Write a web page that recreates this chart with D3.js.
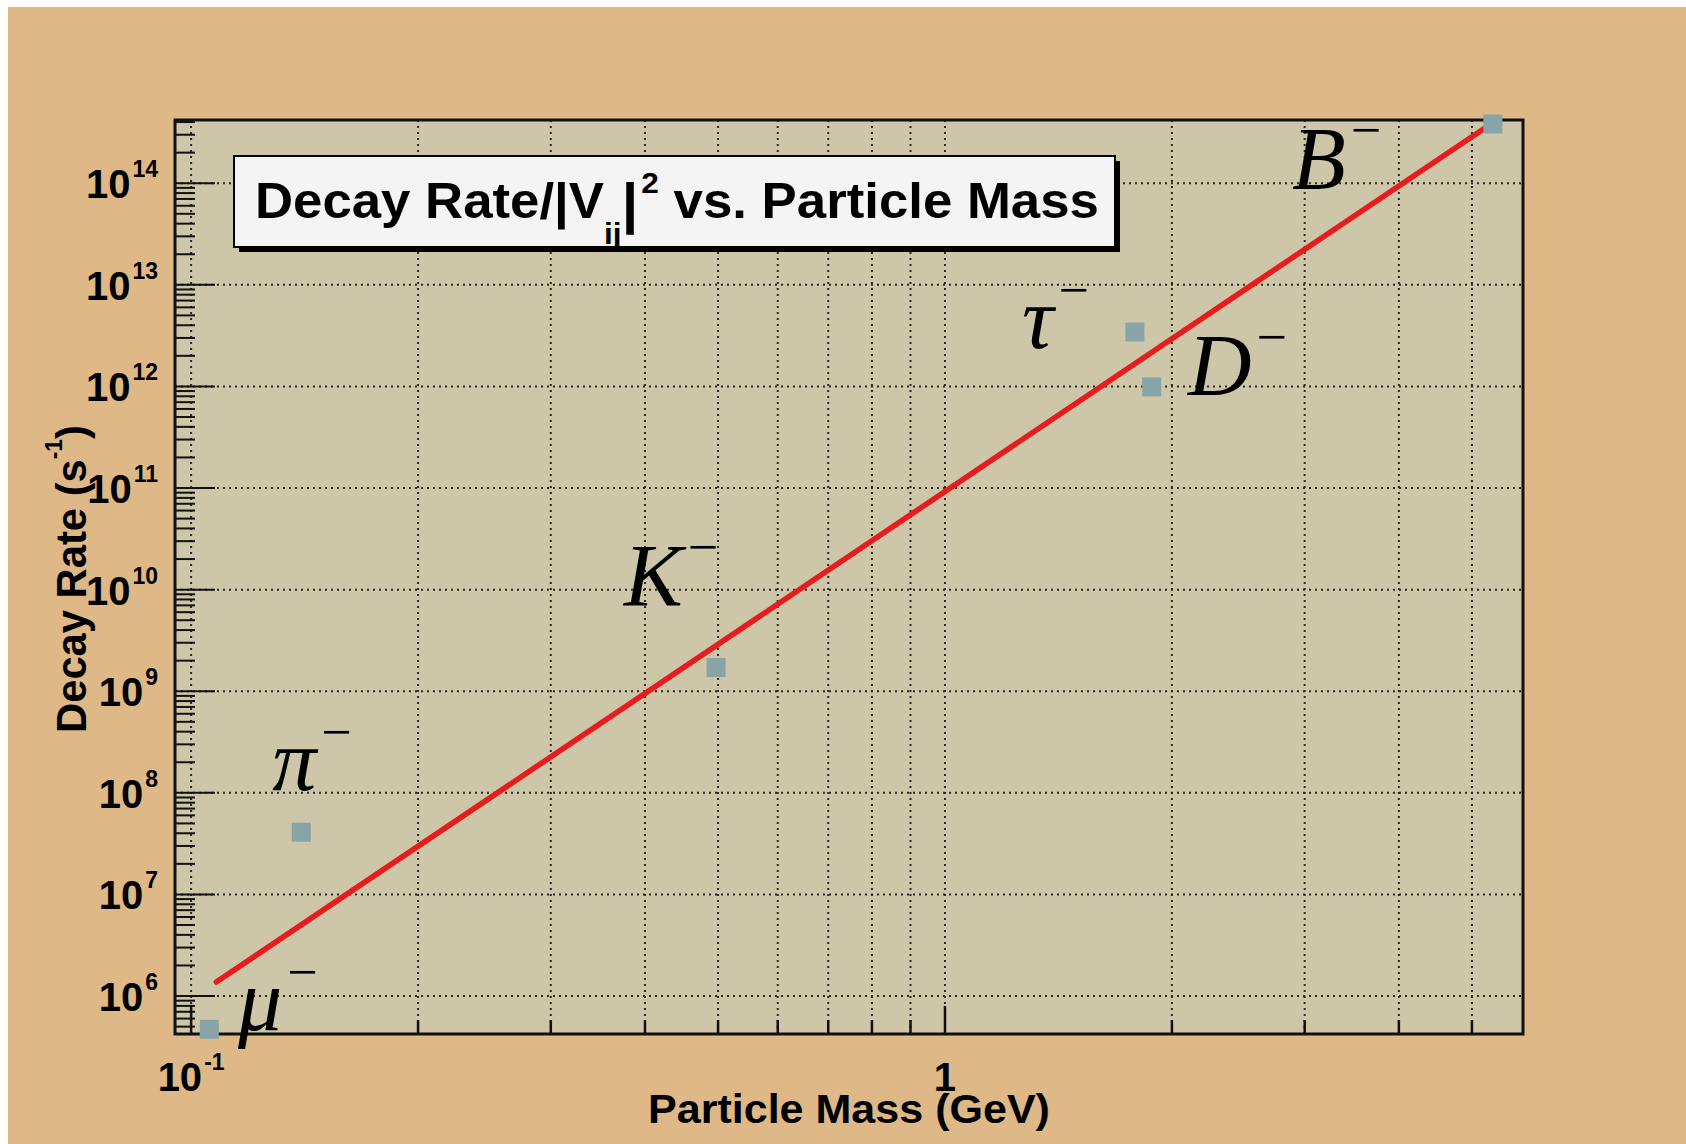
<!DOCTYPE html>
<html>
<head>
<meta charset="utf-8">
<script src="https://cdn.jsdelivr.net/npm/d3@7"></script>
<style>
  html, body { margin: 0; padding: 0; background: #ffffff; }
  svg { display: block; }
</style>
</head>
<body>
<svg id="chart" width="1686" height="1144"></svg>
<script>
// Axis ranges (GeV on x, s^-1 on y)
const massDomain = [0.0952, 5.844];
const rateDomain = [4.23e5, 4.19e14];

// Measured particles: mass (GeV) and decay rate / |Vij|^2 (s^-1)
const particles = ["μ", "π", "K", "τ", "D", "B"];
const masses = [0.1057, 0.140, 0.497, 1.786, 1.88, 5.33];
const rates = [4.7e5, 4.1e7, 1.71e9, 3.43e12, 9.9e11, 3.83e14];

// Where each particle name is written (data coordinates of the text baseline start)
const labelMass = [0.1154, 0.1281, 0.3753, 1.265, 2.10, 2.886];
const labelRate = [4.63e5, 1.066e8, 7.05e9, 2.39e12, 8.23e11, 8.97e13];

// Power-law fit (Sargent's rule, ~m^5): end points of the fitted segment
const fitMass = [0.108, 5.203];
const fitRate = [1.373e6, 3.49e14];

// Tick labels
const rateTickExponents = [6, 7, 8, 9, 10, 11, 12, 13, 14];
const massTickValues = [0.1, 1];
const massTickBase = ["10", "1"];
const massTickExp = ["-1", ""];

const svg = d3.select("#chart");
const W = 1686, H = 1144;
const plot = { left: 175, right: 1523, top: 120, bottom: 1034 };

const x = d3.scaleLog().domain(massDomain).range([plot.left, plot.right]);
const y = d3.scaleLog().domain(rateDomain).range([plot.bottom, plot.top]);

const sansBold = "'Liberation Sans', Arial, Helvetica, sans-serif";
const serif = "'Liberation Serif', 'Times New Roman', Times, serif";

// Horizontally stretch a text element to a given width around an anchor x
function stretchTo(sel, width, ax) {
  const bb = sel.node().getBBox();
  const s = width / bb.width;
  sel.attr("transform", `translate(${ax},0) scale(${s},1) translate(${-ax},0)`);
}

// Canvas background
svg.append("rect").attr("x", 0).attr("y", 0).attr("width", W).attr("height", H).attr("fill", "#ffffff");
svg.append("rect").attr("x", 8).attr("y", 7).attr("width", W - 8).attr("height", H - 7).attr("fill", "#deb887");

// Plot area
svg.append("rect")
  .attr("x", plot.left).attr("y", plot.top)
  .attr("width", plot.right - plot.left).attr("height", plot.bottom - plot.top)
  .attr("fill", "#cdc6a8");

const xTicks = x.ticks();
const yTicks = y.ticks();
const isDecade = v => Math.abs(Math.log10(v) - Math.round(Math.log10(v))) < 1e-9;
const yMajor = rateTickExponents.map(e => Math.pow(10, e));

// Grid: vertical at every x tick, horizontal at each decade
const grid = svg.append("g").attr("stroke", "#2a2a22").attr("stroke-width", 2)
  .attr("stroke-dasharray", "2,4").attr("fill", "none");
grid.selectAll("line.v").data(xTicks).join("line")
  .attr("class", "v")
  .attr("x1", d => x(d)).attr("x2", d => x(d))
  .attr("y1", plot.bottom).attr("y2", plot.top);
grid.selectAll("line.h").data(yMajor).join("line")
  .attr("class", "h")
  .attr("x1", plot.left).attr("x2", plot.right)
  .attr("y1", d => y(d)).attr("y2", d => y(d));

// Fit line
svg.append("line")
  .attr("x1", x(fitMass[0])).attr("y1", y(fitRate[0]))
  .attr("x2", x(fitMass[1])).attr("y2", y(fitRate[1]))
  .attr("stroke", "#e81c1c").attr("stroke-width", 5.5).attr("stroke-linecap", "round");

// Frame and ticks
const axes = svg.append("g").attr("stroke", "#111").attr("fill", "none");
axes.selectAll("line.xt").data(xTicks).join("line")
  .attr("class", "xt")
  .attr("x1", d => x(d)).attr("x2", d => x(d))
  .attr("y1", plot.bottom).attr("y2", d => plot.bottom - (isDecade(d) ? 28 : 14))
  .attr("stroke-width", 2.5);
axes.selectAll("line.yt").data(yTicks).join("line")
  .attr("class", "yt")
  .attr("y1", d => y(d)).attr("y2", d => y(d))
  .attr("x1", plot.left).attr("x2", d => plot.left + (isDecade(d) ? 40 : 20))
  .attr("stroke-width", 2);
axes.append("rect")
  .attr("x", plot.left).attr("y", plot.top)
  .attr("width", plot.right - plot.left).attr("height", plot.bottom - plot.top)
  .attr("stroke-width", 3);

// Data points
const pts = particles.map((p, i) => ({ p, m: masses[i], r: rates[i] }));
svg.append("g").selectAll("rect").data(pts).join("rect")
  .attr("x", d => x(d.m) - 9.5).attr("y", d => y(d.r) - 9.5)
  .attr("width", 19).attr("height", 19)
  .attr("fill", "#88a4a6");

// Y tick labels (10^n)
const yLab = svg.append("g").attr("font-family", sansBold).attr("font-weight", "bold").attr("fill", "#000");
rateTickExponents.forEach(e => {
  const t = yLab.append("text")
    .attr("x", 158).attr("y", y(Math.pow(10, e)) + 15)
    .attr("text-anchor", "end");
  t.append("tspan").attr("font-size", 40).text("10");
  t.append("tspan").attr("font-size", 23).attr("dx", 2).attr("dy", -21).text(String(e));
});

// X tick labels
massTickValues.forEach((v, i) => {
  const t = svg.append("text")
    .attr("x", x(v)).attr("y", 1091)
    .attr("text-anchor", "middle")
    .attr("font-family", sansBold).attr("font-weight", "bold").attr("fill", "#000");
  t.append("tspan").attr("font-size", 40).text(massTickBase[i]);
  if (massTickExp[i]) {
    t.append("tspan").attr("font-size", 23).attr("dx", 2).attr("dy", -21).text(massTickExp[i]);
  }
});

// Axis titles
const xTitle = svg.append("text")
  .attr("x", (plot.left + plot.right) / 2).attr("y", 1123)
  .attr("text-anchor", "middle")
  .attr("font-family", sansBold).attr("font-weight", "bold").attr("font-size", 40)
  .attr("fill", "#000")
  .text("Particle Mass (GeV)");
stretchTo(xTitle, 402, (plot.left + plot.right) / 2);

const yTitleG = svg.append("g").attr("transform", "translate(86,579) rotate(-90)");
const yTitle = yTitleG.append("text")
  .attr("x", 0).attr("y", 0)
  .attr("text-anchor", "middle")
  .attr("font-family", sansBold).attr("font-weight", "bold").attr("fill", "#000");
yTitle.append("tspan").attr("font-size", 42).text("Decay Rate (s");
yTitle.append("tspan").attr("font-size", 23).attr("dy", -24).text("-1");
yTitle.append("tspan").attr("font-size", 42).attr("dy", 24).text(")");
stretchTo(yTitle, 308, 0);

// Particle name labels with superscript minus
const lab = svg.append("g").attr("font-family", serif).attr("fill", "#000");
particles.forEach((p, i) => {
  const t = lab.append("text")
    .attr("x", x(labelMass[i])).attr("y", y(labelRate[i]));
  t.append("tspan").attr("font-size", 88).attr("font-style", "italic").text(p);
  t.append("tspan").attr("font-size", 54).attr("font-style", "normal")
    .attr("dx", 5).attr("dy", -40).text("\u2212");
});

// Title box with drop shadow
const box = { x: 234, y: 156, w: 881, h: 91 };
svg.append("rect").attr("x", box.x + 5).attr("y", box.y + 5)
  .attr("width", box.w).attr("height", box.h).attr("fill", "#000");
svg.append("rect").attr("x", box.x).attr("y", box.y)
  .attr("width", box.w).attr("height", box.h)
  .attr("fill", "#f4f4f4").attr("stroke", "#000").attr("stroke-width", 2);

const title = svg.append("text")
  .attr("x", 255).attr("y", 218)
  .attr("font-family", sansBold).attr("font-weight", "bold").attr("fill", "#000");
title.append("tspan").attr("font-size", 50).text("Decay Rate/|V");
title.append("tspan").attr("font-size", 30).attr("dy", 26).text("ij");
title.append("tspan").attr("font-size", 56).attr("dy", -22).text("|");
title.append("tspan").attr("font-size", 30).attr("dx", 3).attr("dy", -29).text("2");
title.append("tspan").attr("font-size", 50).attr("dy", 25).text(" vs. Particle Mass");
stretchTo(title, 844, 255);
</script>
</body>
</html>
